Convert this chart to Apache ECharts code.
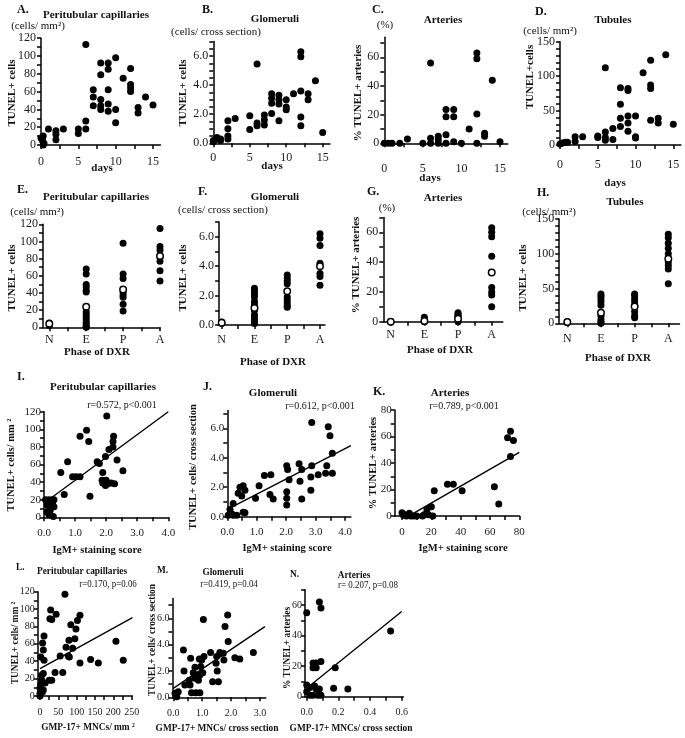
<!DOCTYPE html>
<html>
<head>
<meta charset="utf-8">
<script src="https://cdn.jsdelivr.net/npm/echarts@6/dist/echarts.min.js"></script>
<style>
  html, body { margin: 0; padding: 0; background: #fff; }
  #chart { width: 685px; height: 738px; }
</style>
</head>
<body>
<div id="chart"></div>
<script>
// ---- data ----
// A-D: [day, value]
const ptcByDay = [[0,8],[0.3,10],[0.2,5],[0.4,2],[0.3,0],[1,18],[2,16],[2,12],[2,6],[3,18],[5,18],[5,13],
  [6,113],[6,27],[6,18],[7,62],[7,54],[7,44],[8,92],[8,79],[8,51],[8,44],[8,40],[9,92],[9,85],[9,62],[9,46],[9,38],
  [10,98],[10,40],[10,25],[11,75],[12,86],[12,68],[12,64],[12,60],[13,42],[13,36],[14,54],[15,45]]
const gloByDay = [[0,0.1],[0,0.2],[0.5,0.4],[0.5,0.3],[1,0.3],[1,0.2],[2,1.55],[2,1.0],[2,0.5],[2,0.3],[3,1.7],
  [5,1.9],[5,0.95],[6,5.45],[6,1.4],[6,1.2],[7,1.95],[7,1.6],[7,1.25],[8,3.4],[8,3.1],[8,2.75],[8,2.05],
  [9,3.3],[9,3.0],[9,2.7],[9,1.55],[10,3.0],[10,2.5],[10,2.3],[11,3.4],[12,6.3],[12,5.95],[12,3.6],[12,1.8],[12,1.2],
  [13,3.4],[13,3.0],[14,4.3],[15,0.75]]
const artByDay = [[0,0],[0.5,0],[1,0],[2,0],[3,3],[5,0],[6,56],[6,3.5],[6,0],[7,5],[7,2.5],[7,0],
  [8,23.5],[8,18.5],[8,6],[8,0],[9,23.5],[9,18.5],[9,1],[10,0],[11,10],[12,63],[12,59],[12,20.5],[12,0],
  [13,7],[13,5],[14,44],[15,1]]
const tubByDay = [[0,1.5],[0.3,3],[0.7,4],[1,4],[2,12],[2,5],[3,12],[5,13],[5,11],[6,112],[6,19],[6,11],[6,7],
  [7,24],[7,8],[8,83],[8,59],[8,39],[8,27],[9,82],[9,79],[9,42],[9,32],[9,20],[10,42],[10,12],[10,10],[11,105],
  [12,123],[12,87],[12,82],[12,36],[13,39],[13,32],[14,131],[15,30]]

// E-H: values per phase N, E, P, A and the phase means (open circles)
const phaseNames = ['N', 'E', 'P', 'A']
const ptcPhase = [[2,5],[68,62,50,47,43,41,18,15,12,9,6,3,1,0],[98,62,57,41,38,35,27,19],[115,94,90,82,77,66,54]]
const ptcPhaseMean = [4, 24, 44, 83]
const gloPhase = [[0.1,0.2],[2.5,2.3,2.1,1.9,1.6,1.4,1.0,0.7,0.5,0.3,0.1],[3.4,3.2,3.0,2.8,1.9,1.7,1.5,1.3,1.2],[6.2,5.9,5.4,4.2,3.5,3.3,2.7]]
const gloPhaseMean = [0.15, 1.15, 2.3, 4.0]
const artPhase = [[0],[3,1,0],[6,5,4,3,0],[63,60,57,44,23,20,18,10]]
const artPhaseMean = [0, 0.5, 2, 33]
const tubPhase = [[1,2],[42,39,35,31,26,10,5,2,0],[42,40,35,31,26,17,11,8],[128,123,115,108,100,88,83,78,57]]
const tubPhaseMean = [2, 15, 24, 93]

// I-K: [IgM+ staining score, value]
const igmPtc = [[0.05,20],[0.16,20],[0.27,20],[0.1,14],[0.16,10],[0.27,16],[0.1,6],[0.16,3],[0.32,12],[0.3,1],[0.32,20],[0.2,8],
  [0.54,51],[0.76,63],[0.65,26],[0.92,46],[1.03,46],[1.16,46],[1.16,92],[1.37,99],[1.44,86],[1.48,24],[1.71,63],[1.78,61],
  [1.89,51],[1.87,42],[1.89,39],[1.98,69],[2.0,42],[2.05,38],[1.98,36],[2.02,115],[2.09,77],[2.16,39],[2.22,86],[2.24,92],
  [2.27,38],[2.35,65],[2.54,53],[2.22,80]]
const igmGlo = [[0.03,0.1],[0.15,0.2],[0.09,0.5],[0.2,0.9],[0.2,0.1],[0.37,1.6],[0.43,2.0],[0.54,2.1],[0.6,1.8],[0.49,1.4],
  [0.32,0.1],[0.54,0.3],[0.6,0.27],[0.96,1.25],[1.08,2.1],[1.26,2.8],[1.48,2.85],[1.45,1.5],[1.56,1.2],[2.02,3.45],[2.05,3.2],
  [2.1,2.5],[2.02,1.7],[2.02,1.25],[2.02,0.8],[2.44,3.6],[2.53,3.2],[2.47,2.4],[2.53,1.2],[2.84,2.7],[2.87,3.45],[2.87,6.4],
  [2.84,1.8],[3.09,2.85],[3.34,2.95],[3.43,6.1],[3.49,5.5],[3.38,3.45],[3.57,4.3],[3.57,2.95]]
const igmArt = [[0,2.5],[1,0.5],[2,1],[3,0],[4,0.5],[5,2],[6,0],[8,0],[10,0],[14,0],[15,1],[17,5],[18,1],[20,7],[21,0],
  [22,19],[31,24],[35,24],[41,19],[63,22],[66,9],[72,59],[74,64],[76,57],[74,45]]

// L-N: [GMP-17+ MNCs, value]
const gmpPtc = [[0,3],[0,9],[2,13],[4.5,24],[2,45],[7,61],[11,69],[9,53],[11,41],[4.5,18],[9,7],[14,15],[7,5],[0,0],[9,26],
  [25,18],[32,18],[29,99],[32,88],[27,89],[44,94],[41,27],[55,46],[62,27],[68,117],[71,56],[77,46],[80,45],[79,64],
  [84,82],[89,55],[95,66],[98,77],[102,87],[109,93],[109,38],[138,42],[159,38],[207,63],[227,41]]
const gmpGlo = [[0.06,0.3],[0.12,0.05],[0.17,0.43],[0.09,0.18],[0.35,3.6],[0.37,2.0],[0.4,0.94],[0.6,2.96],[0.55,1.3],
  [0.58,0.94],[0.63,0.35],[0.69,1.87],[0.81,1.7],[0.75,2.28],[0.87,1.3],[0.92,1.7],[0.9,2.9],[0.98,2.84],[0.95,2.33],
  [1.02,1.87],[1.04,5.9],[0.78,0.35],[0.92,0.35],[0.75,1.44],[1.06,3.09],[1.29,3.4],[1.36,1.19],[1.5,3.09],[1.52,2.0],
  [1.56,1.19],[1.61,3.4],[1.48,2.58],[1.73,3.34],[1.79,5.37],[1.88,6.25],[1.9,4.23],[1.75,2.84],[2.13,3.0],[2.3,2.9],[2.77,3.4]]
const gmpArt = [[0,55],[0,7.6],[0,3.3],[0.02,1],[0.02,6],[0.04,22],[0.05,20],[0.04,19],[0.06,19],[0.05,7],[0.06,5],
  [0.07,1],[0.04,1],[0.09,23],[0.08,62],[0.09,58],[0.08,5],[0.09,1],[0.18,19],[0.17,5.5],[0.26,5],[0.53,43],[0.06,22]]

// regression lines: [intercept, slope, x from, x to]
const fitI = [16, 26, 0.15, 4.0]
const fitJ = [0.5, 1.03, 0.05, 4.2]
const fitK = [-2.9, 0.636, 4.5, 80]
const fitL = [31.5, 0.233, 0, 252]
const fitM = [0.68, 1.48, 0, 3.17]
const fitN = [5.5, 83.7, 0, 0.6]

// ---- layout ----
const FONT = '"Liberation Serif", "Times New Roman", serif'

function steps(a, b, s) {
  const out = []
  for (let v = a; v <= b + 1e-9; v += s) out.push(+v.toFixed(4))
  return out
}

// axis spec: [pixel0, value0, pixel1, value1, min, max]
const panels = [
  { x: [41, 0, 153, 15, 0, 16], y: [145, 0, 56, 100, 0, 120], xl: steps(0, 15, 5), xt: steps(0, 15, 2.5), yl: steps(0, 120, 20), yt: steps(0, 120, 10), xm: 11, ym: 5, fs: 12, pts: ptcByDay },
  { x: [213.3, 0, 322.7, 15, 0, 16], y: [143.3, 0, 56, 6, 0, 7], xl: steps(0, 15, 5), xt: steps(0, 15, 2.5), yl: steps(0, 6, 2), yt: steps(0, 7, 0.5), yd: 1, xm: 9, ym: 5, fs: 12, pts: gloByDay },
  { x: [384.3, 0, 500, 15, 0, 16], y: [143.3, 0, 57.3, 60, 0, 74], xl: steps(0, 15, 5), xt: steps(0, 15, 2.5), yl: steps(0, 60, 20), yt: steps(0, 70, 10), xm: 20, ym: 5, fs: 12, pts: artByDay },
  { x: [560, 0, 673.3, 15, 0, 16], y: [145, 0, 41.7, 150, 0, 150], xl: steps(0, 15, 5), xt: steps(0, 15, 2.5), yl: steps(0, 150, 50), yt: steps(0, 150, 10), xm: 14, ym: 5, fs: 12, pts: tubByDay },

  { x: [49.3, 0, 160, 3, -0.17, 3], y: [327.3, 0, 224.3, 120, 0, 120], cat: true, yl: steps(0, 120, 20), yt: steps(0, 120, 10), xm: 7, ym: 5, fs: 12, phase: ptcPhase, mean: ptcPhaseMean },
  { x: [221.7, 0, 320, 3, -0.08, 3.15], y: [325, 0, 236.7, 6, 0, 7], cat: true, yl: steps(0, 6, 2), yt: steps(0, 7, 1), yd: 1, xm: 9, ym: 5, fs: 12, phase: gloPhase, mean: gloPhaseMean },
  { x: [390.7, 0, 491.7, 3, -0.22, 3.33], y: [321.7, 0, 232.3, 60, 0, 70], cat: true, yl: steps(0, 60, 20), yt: steps(0, 70, 10), xm: 7, ym: 5, fs: 12, phase: artPhase, mean: artPhaseMean },
  { x: [567.3, 0, 668.3, 3, -0.24, 3.33], y: [323.3, 0, 219, 150, 0, 150], cat: true, yl: steps(0, 150, 50), yt: steps(0, 150, 10), xm: 10, ym: 5, fs: 12, phase: tubPhase, mean: tubPhaseMean },

  { x: [44, 0, 168.3, 4, 0, 4], y: [517.3, 0, 411.7, 120, 0, 120], xl: steps(0, 4, 1), xt: steps(0, 4, 0.5), xd: 1, yl: steps(0, 120, 20), yt: steps(0, 120, 10), xm: 10, ym: 3, fs: 11, pts: igmPtc, fit: fitI },
  { x: [227.3, 0, 345, 4, 0, 4.2], y: [516.7, 0, 428.3, 6, 0, 7.2], xl: steps(0, 4, 1), xt: steps(0, 4, 0.5), xd: 1, yl: steps(0, 6, 2), yt: steps(0, 7, 1), yd: 1, xm: 10, ym: 3, fs: 11, pts: igmGlo, fit: fitJ },
  { x: [402, 0, 519.3, 80, -5, 80], y: [516, 0, 410, 80, 0, 80], xl: steps(0, 80, 20), xt: steps(0, 80, 10), yl: steps(0, 80, 20), yt: steps(0, 80, 10), xm: 11, ym: 3, fs: 11, pts: igmArt, fit: fitK },

  { x: [40, 0, 131.7, 250, -6, 252], y: [696, 0, 591.7, 120, 0, 120], xl: steps(0, 250, 50), xt: steps(0, 250, 25), yl: steps(0, 120, 20), yt: steps(0, 120, 10), xm: 11, ym: 3, fs: 10, pts: gmpPtc, fit: fitL },
  { x: [173.3, 0, 260, 3, -0.03, 3.2], y: [697.3, 0, 618.3, 6, 0, 7.5], xl: steps(0, 3, 1), xt: steps(0, 3, 0.5), xd: 1, yl: steps(0, 6, 2), yt: steps(0, 7, 1), yd: 1, xm: 11, ym: 3, fs: 10, pts: gmpGlo, fit: fitM },
  { x: [306.7, 0, 401.7, 0.6, -0.01, 0.61], y: [696.7, 0, 605, 60, 0, 70], xl: steps(0, 0.6, 0.2), xt: steps(0, 0.6, 0.1), xd: 1, yl: steps(0, 60, 20), yt: steps(0, 70, 10), xm: 11, ym: 3, fs: 10, pts: gmpArt, fit: fitN }
]

// free text: [text, x, y, size, bold, align, rotated, squeeze]
const texts = [
  ['A.', 17, 10, 12, 1, 'left'], ['Peritubular capillaries', 96, 15, 11, 1], ['(cells/ mm²)', 38, 26, 11, 0], ['TUNEL+ cells', 12, 93, 11, 1, 'center', 1], ['days', 102, 168, 11, 1],
  ['B.', 202, 10, 12, 1, 'left'], ['Glomeruli', 275, 19, 11, 1], ['(cells/ cross section)', 216, 32, 11, 0], ['TUNEL+ cells', 183, 93, 11, 1, 'center', 1], ['days', 272, 166, 11, 1],
  ['C.', 372, 10, 12, 1, 'left'], ['Arteries', 443, 20, 11, 1], ['(%)', 385, 25, 11, 0], ['% TUNEL+ arteries', 358, 93, 11, 1, 'center', 1], ['days', 430, 178, 11, 1],
  ['D.', 535, 12, 12, 1, 'left'], ['Tubules', 613, 20, 11, 1], ['(cells/ mm²)', 550, 31, 11, 0], ['TUNEL+cells', 530, 77, 11, 1, 'center', 1], ['days', 615, 183, 11, 1],

  ['E.', 17, 190, 12, 1, 'left'], ['Peritubular capillaries', 96, 197, 11, 1], ['(cells/ mm²)', 37, 212, 11, 0], ['TUNEL+ cells', 12, 278, 11, 1, 'center', 1], ['Phase of DXR', 97, 352, 11, 1],
  ['F.', 198, 192, 12, 1, 'left'], ['Glomeruli', 275, 197, 11, 1], ['(cells/ cross section)', 223, 210, 11, 0], ['TUNEL+ cells', 183, 278, 11, 1, 'center', 1], ['Phase of DXR', 273, 362, 11, 1],
  ['G.', 367, 192, 12, 1, 'left'], ['Arteries', 443, 198, 11, 1], ['(%)', 387, 208, 11, 0], ['% TUNEL+ arteries', 356, 265, 11, 1, 'center', 1], ['Phase of DXR', 440, 350, 11, 1],
  ['H.', 537, 193, 12, 1, 'left'], ['Tubules', 625, 202, 11, 1], ['(cells/ mm²)', 549, 212, 11, 0], ['TUNEL+ cells', 523, 278, 11, 1, 'center', 1], ['Phase of DXR', 618, 358, 11, 1],

  ['I.', 17, 377, 12, 1, 'left'], ['Peritubular capillaries', 103, 387, 11, 1], ['r=0.572, p<0.001', 122, 405, 10, 0], ['TUNEL+ cells/ mm ²', 11, 465, 10.5, 1, 'center', 1], ['IgM+ staining score', 97, 550, 10.5, 1],
  ['J.', 203, 387, 12, 1, 'left'], ['Glomeruli', 273, 393, 11, 1], ['r=0.612, p<0.001', 320, 406, 10, 0], ['TUNEL+ cells/ cross section', 193, 467, 10.5, 1, 'center', 1], ['IgM+ staining score', 287, 548, 10.5, 1],
  ['K.', 373, 392, 12, 1, 'left'], ['Arteries', 450, 393, 11, 1], ['r=0.789, p<0.001', 464, 406, 10, 0], ['% TUNEL+ arteries', 373, 463, 10.5, 1, 'center', 1], ['IgM+ staining score', 463, 548, 10.5, 1],

  ['L.', 16, 567, 11, 1, 'left', 0, 1], ['Peritubular capillaries', 82, 571, 11, 1, 'center', 0, 1], ['r=0.170, p=0.06', 108, 584, 10.5, 0, 'center', 0, 1], ['TUNEL+ cells/ mm ²', 15, 643, 11, 1, 'center', 1, 1], ['GMP-17+ MNCs/ mm ²', 88, 727, 11, 1, 'center', 0, 1],
  ['M.', 157, 570, 11, 1, 'left', 0, 1], ['Glomeruli', 223, 572, 11, 1, 'center', 0, 1], ['r=0.419, p=0.04', 229, 584, 10.5, 0, 'center', 0, 1], ['TUNEL+ cells/ cross section', 152, 640, 11, 1, 'center', 1, 1], ['GMP-17+ MNCs/ cross section', 217, 728, 11, 1, 'center', 0, 1],
  ['N.', 290, 574, 11, 1, 'left', 0, 1], ['Arteries', 354, 575, 11, 1, 'center', 0, 1], ['r= 0.207, p=0.08', 368, 585, 10.5, 0, 'center', 0, 1], ['% TUNEL+ arteries', 287, 648, 11, 1, 'center', 1, 1], ['GMP-17+ MNCs/ cross section', 351, 728, 11, 1, 'center', 0, 1]
]

function span(ax) {
  const [p0, v0, p1, v1, min, max] = ax
  const k = (p1 - p0) / (v1 - v0)
  const a = p0 + (min - v0) * k
  const b = p0 + (max - v0) * k
  return [Math.min(a, b), Math.abs(b - a)]
}

const lineStyle = { color: '#000', width: 1.5 }

function makeAxis(i, ax, labels, ticks, dec, margin, fs, names) {
  return {
    type: 'value',
    gridIndex: i,
    min: ax[4],
    max: ax[5],
    splitLine: { show: false },
    axisLine: { show: true, onZero: false, lineStyle },
    axisTick: { show: true, length: 4, customValues: ticks, lineStyle },
    axisLabel: {
      customValues: labels,
      margin: margin,
      fontSize: fs,
      fontFamily: FONT,
      color: '#1a1a1a',
      formatter: v => names ? names[Math.round(v)] : v.toFixed(dec || 0)
    }
  }
}

const grid = [], xAxis = [], yAxis = [], series = []
panels.forEach((p, i) => {
  const [left, width] = span(p.x)
  const [top, height] = span(p.y)
  grid.push({ left, top, width, height })
  xAxis.push(p.cat
    ? makeAxis(i, p.x, [0, 1, 2, 3], steps(0, 3, 0.5), 0, p.xm, p.fs, phaseNames)
    : makeAxis(i, p.x, p.xl, p.xt, p.xd, p.xm, p.fs))
  yAxis.push(makeAxis(i, p.y, p.yl, p.yt, p.yd, p.ym, p.fs))

  const pts = p.cat ? p.phase.flatMap((vals, k) => vals.map(v => [k, v])) : p.pts
  series.push({
    type: 'scatter', xAxisIndex: i, yAxisIndex: i, data: pts, clip: false,
    symbolSize: 7, itemStyle: { color: '#000', opacity: 1 }, z: 2
  })
  if (p.mean) {
    series.push({
      type: 'scatter', xAxisIndex: i, yAxisIndex: i, data: p.mean.map((m, k) => [k, m]), clip: false,
      symbolSize: 6.5, itemStyle: { color: '#fff', borderColor: '#000', borderWidth: 1.5, opacity: 1 }, z: 3
    })
  }
  if (p.fit) {
    const [a, b, x0, x1] = p.fit
    series.push({
      type: 'line', xAxisIndex: i, yAxisIndex: i, data: [[x0, a + b * x0], [x1, a + b * x1]],
      symbol: 'none', lineStyle: { color: '#000', width: 1.4 }, clip: false, z: 1
    })
  }
})

const graphic = texts.map(([text, x, y, size, bold, align, rot, squeeze]) => ({
  type: 'text',
  x, y,
  rotation: rot ? Math.PI / 2 : 0,
  scaleX: squeeze ? 0.85 : 1,
  style: {
    text,
    fill: '#111',
    fontFamily: FONT,
    fontSize: size,
    fontWeight: bold ? 'bold' : 'normal',
    align: align || 'center',
    textAlign: align || 'center',
    verticalAlign: 'middle',
    textVerticalAlign: 'middle'
  }
}))

const chart = echarts.init(document.getElementById('chart'))
chart.setOption({
  animation: false,
  backgroundColor: '#fff',
  grid, xAxis, yAxis, series, graphic
})
window.addEventListener('resize', () => chart.resize())
</script>
</body>
</html>
